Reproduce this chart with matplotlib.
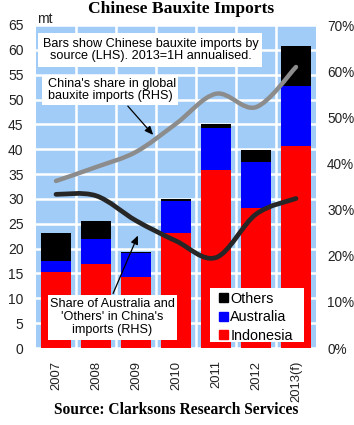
import matplotlib
matplotlib.use("Agg")
import matplotlib.pyplot as plt
from matplotlib.patches import Patch, PathPatch, Rectangle
from matplotlib.path import Path
from matplotlib.ticker import FixedLocator
import numpy as np

years = ["2007", "2008", "2009", "2010", "2011", "2012", "2013(f)"]
indonesia = [15.2, 17.0, 14.2, 23.1, 35.8, 28.1, 40.6]
australia = [2.3, 4.9, 4.9, 6.4, 8.5, 9.4, 12.1]
others = [5.6, 3.7, 0.3, 0.5, 0.7, 2.4, 8.0]
china_share = [36.2, 39.2, 42.5, 48.6, 55.1, 52.2, 60.9]      # % RHS
aus_oth_share = [33.3, 33.0, 27.6, 23.2, 19.6, 29.0, 32.4]    # % RHS

W, H = 354, 425
fig = plt.figure(figsize=(W / 100, H / 100), dpi=100)
sans = ["Liberation Sans", "DejaVu Sans"]
serif = ["Liberation Serif", "DejaVu Serif"]
plt.rcParams["font.family"] = sans

def fx(px):
    return px / W

def fy(py):
    return 1 - py / H

ax = fig.add_axes([fx(36), fy(348), 280 / W, 323 / H])
ax.set_facecolor("#a0ccf7")
x = np.arange(len(years))
bw = 0.77
ax.bar(x, indonesia, bw, color="#ff0000", zorder=3)
ax.bar(x, australia, bw, bottom=indonesia, color="#0000ff", zorder=3)
bot2 = [a + b for a, b in zip(indonesia, australia)]
ax.bar(x, others, bw, bottom=bot2, color="#000000", zorder=3)

ax.set_xlim(-0.5, 6.5)
ax.set_ylim(0, 65)
ax.set_yticks(range(0, 66, 5))
ax.set_xticks(x)
ax.set_xticklabels(years, rotation=90, fontsize=9.4, color="#222222")
ax.xaxis.set_minor_locator(FixedLocator(np.arange(0.5, 6.0, 1.0)))
ax.grid(axis="y", which="major", color="white", linewidth=1.8, zorder=1)
ax.grid(axis="x", which="minor", color="white", linewidth=1.8, zorder=1)
ax.set_axisbelow(True)
ax.tick_params(axis="both", which="both", length=0)
ax.tick_params(axis="y", labelsize=10, labelcolor="#222222", pad=9)
ax.tick_params(axis="x", pad=9)
for s in ax.spines.values():
    s.set_visible(False)

ax2 = ax.twinx()
ax2.set_ylim(0, 70)
ax2.set_yticks(range(0, 71, 10))
ax2.set_yticklabels([f"{v}%" for v in range(0, 71, 10)])
ax2.tick_params(axis="y", length=0, labelsize=9.8, labelcolor="#222222", pad=8)
for s in ax2.spines.values():
    s.set_visible(False)
ax2.set_xlim(-0.5, 6.5)

def smooth_path(xs, ys):
    pts = np.column_stack([xs, ys]).astype(float)
    n = len(pts)
    verts = [pts[0]]
    codes = [Path.MOVETO]
    for i in range(n - 1):
        p0 = pts[i - 1] if i > 0 else pts[i]
        p1 = pts[i]
        p2 = pts[i + 1]
        p3 = pts[i + 2] if i + 2 < n else pts[i + 1]
        c1 = p1 + (p2 - p0) / 6.0
        c2 = p2 - (p3 - p1) / 6.0
        verts += [c1, c2, p2]
        codes += [Path.CURVE4] * 3
    return Path(verts, codes)

ax2.add_patch(PathPatch(smooth_path(x, china_share), facecolor="none",
                        edgecolor="#8c8c8c", linewidth=3.2, capstyle="round", zorder=5))
ax2.add_patch(PathPatch(smooth_path(x, aus_oth_share), facecolor="none",
                        edgecolor="#262626", linewidth=3.4, capstyle="round", zorder=5))

# titles
fig.text(fx(181), fy(9), "Chinese Bauxite Imports", family=serif, weight="bold",
         fontsize=12.6, ha="center", va="center")
fig.text(fx(176), fy(410), "Source: Clarksons Research Services", family=serif,
         weight="bold", fontsize=11.2, ha="center", va="center")
fig.text(fx(37), fy(19), "mt", fontsize=10, ha="left", va="center", color="#222222")

# annotation boxes
def box(x0, y0, x1, y1):
    fig.patches.append(Rectangle((fx(x0), fy(y1)), fx(x1) - fx(x0), fy(y0) - fy(y1),
                                 transform=fig.transFigure, facecolor="white",
                                 edgecolor="none", zorder=10))

box(38, 33, 262, 67)
fig.text(fx(151), fy(50), "Bars show Chinese bauxite imports by\nsource (LHS). 2013=1H annualised.",
         fontsize=9.1, ha="center", va="center", linespacing=1.1, zorder=11)
box(42, 75, 178, 105)
fig.text(fx(48), fy(90), "China's share in global\nbauxite imports (RHS)",
         fontsize=9.1, ha="left", va="center", linespacing=1.1, zorder=11)
box(48, 295, 177, 340)
fig.text(fx(112), fy(317), "Share of Australia and\n'Others' in China's\nimports (RHS)",
         fontsize=9.1, ha="center", va="center", linespacing=1.1, zorder=11)

arrow_kw = dict(arrowstyle="-|>,head_length=0.5,head_width=0.22", color="black", lw=0.9)
ax2.annotate("", xy=(fx(155), fy(137)), xytext=(fx(126), fy(104)),
             xycoords="figure fraction", textcoords="figure fraction",
             arrowprops=arrow_kw, zorder=12)
ax2.annotate("", xy=(fx(139), fy(233)), xytext=(fx(112), fy(296)),
             xycoords="figure fraction", textcoords="figure fraction",
             arrowprops=arrow_kw, zorder=12)

box(210, 288, 304, 342)
handles = [Patch(color="#000000", label="Others"),
           Patch(color="#0000ff", label="Australia"),
           Patch(color="#ff0000", label="Indonesia")]
leg = fig.legend(handles=handles, loc="upper left", bbox_to_anchor=(fx(216), fy(289)),
                 bbox_transform=fig.transFigure, fontsize=10.4, frameon=False,
                 handlelength=0.6, handleheight=0.6, handletextpad=0.2,
                 labelspacing=0.3, borderpad=0.2, borderaxespad=0)
leg.set_zorder(20)

fig.savefig("out.png", dpi=100)
